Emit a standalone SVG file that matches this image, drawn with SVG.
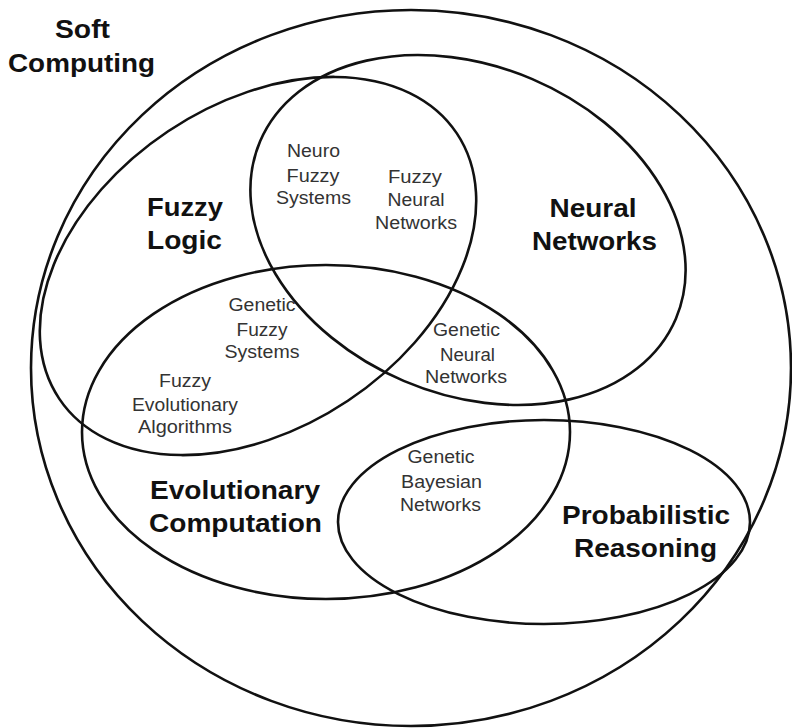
<svg xmlns="http://www.w3.org/2000/svg" width="792" height="728" viewBox="0 0 792 728">
  <style>
    .set { fill: none; stroke: #111; stroke-width: 2.6; }
    .big { font-family: "Liberation Sans", Arial, sans-serif; font-weight: bold; font-size: 26px; fill: #111; text-anchor: middle; }
    .sub { font-family: "Liberation Sans", Arial, sans-serif; font-size: 17.5px; fill: #333; text-anchor: middle; }
  </style>
  <rect width="792" height="728" fill="#fff"/>

  <g id="soft-computing">
    <ellipse class="set" cx="411" cy="368" rx="380" ry="358"/>
    <text class="big" x="82.5" y="38" textLength="55" lengthAdjust="spacingAndGlyphs">Soft</text>
    <text class="big" x="81.5" y="72" textLength="147" lengthAdjust="spacingAndGlyphs">Computing</text>
  </g>

  <g id="fuzzy-logic">
    <ellipse class="set" cx="0" cy="0" rx="239" ry="162" transform="translate(258 266) rotate(-33.7)"/>
    <text class="big" x="185" y="216" textLength="76" lengthAdjust="spacingAndGlyphs">Fuzzy</text>
    <text class="big" x="184.5" y="249" textLength="75" lengthAdjust="spacingAndGlyphs">Logic</text>
  </g>

  <g id="neural-networks">
    <ellipse class="set" cx="0" cy="0" rx="226" ry="164" transform="translate(468 230) rotate(23.1)"/>
    <text class="big" x="593" y="217" textLength="87" lengthAdjust="spacingAndGlyphs">Neural</text>
    <text class="big" x="594.5" y="250" textLength="125" lengthAdjust="spacingAndGlyphs">Networks</text>
  </g>

  <g id="evolutionary-computation">
    <ellipse class="set" cx="326" cy="432" rx="244" ry="167"/>
    <text class="big" x="235" y="499" textLength="170" lengthAdjust="spacingAndGlyphs">Evolutionary</text>
    <text class="big" x="235.5" y="532" textLength="173" lengthAdjust="spacingAndGlyphs">Computation</text>
  </g>

  <g id="probabilistic-reasoning">
    <ellipse class="set" cx="544" cy="522" rx="206" ry="102"/>
    <text class="big" x="646" y="524" textLength="168" lengthAdjust="spacingAndGlyphs">Probabilistic</text>
    <text class="big" x="645.5" y="557" textLength="143" lengthAdjust="spacingAndGlyphs">Reasoning</text>
  </g>

  <g id="neuro-fuzzy-systems">
    <text class="sub" x="313.5" y="157" textLength="53" lengthAdjust="spacingAndGlyphs">Neuro</text>
    <text class="sub" x="313" y="182" textLength="53" lengthAdjust="spacingAndGlyphs">Fuzzy</text>
    <text class="sub" x="313.5" y="204" textLength="75" lengthAdjust="spacingAndGlyphs">Systems</text>
  </g>

  <g id="fuzzy-neural-networks">
    <text class="sub" x="415" y="183" textLength="54" lengthAdjust="spacingAndGlyphs">Fuzzy</text>
    <text class="sub" x="416" y="206" textLength="57" lengthAdjust="spacingAndGlyphs">Neural</text>
    <text class="sub" x="416" y="229" textLength="82" lengthAdjust="spacingAndGlyphs">Networks</text>
  </g>

  <g id="genetic-fuzzy-systems">
    <text class="sub" x="262" y="311" textLength="67" lengthAdjust="spacingAndGlyphs">Genetic</text>
    <text class="sub" x="262" y="336" textLength="51" lengthAdjust="spacingAndGlyphs">Fuzzy</text>
    <text class="sub" x="262" y="358" textLength="75" lengthAdjust="spacingAndGlyphs">Systems</text>
  </g>

  <g id="genetic-neural-networks">
    <text class="sub" x="466.5" y="336" textLength="67" lengthAdjust="spacingAndGlyphs">Genetic</text>
    <text class="sub" x="467.5" y="361" textLength="55" lengthAdjust="spacingAndGlyphs">Neural</text>
    <text class="sub" x="466" y="383" textLength="82" lengthAdjust="spacingAndGlyphs">Networks</text>
  </g>

  <g id="fuzzy-evolutionary-algorithms">
    <text class="sub" x="185" y="387" textLength="52" lengthAdjust="spacingAndGlyphs">Fuzzy</text>
    <text class="sub" x="185" y="411" textLength="106" lengthAdjust="spacingAndGlyphs">Evolutionary</text>
    <text class="sub" x="185" y="433" textLength="94" lengthAdjust="spacingAndGlyphs">Algorithms</text>
  </g>

  <g id="genetic-bayesian-networks">
    <text class="sub" x="441" y="463" textLength="67" lengthAdjust="spacingAndGlyphs">Genetic</text>
    <text class="sub" x="441.5" y="488" textLength="81" lengthAdjust="spacingAndGlyphs">Bayesian</text>
    <text class="sub" x="440.5" y="511" textLength="81" lengthAdjust="spacingAndGlyphs">Networks</text>
  </g>

  <g id="connectors"/>
</svg>
